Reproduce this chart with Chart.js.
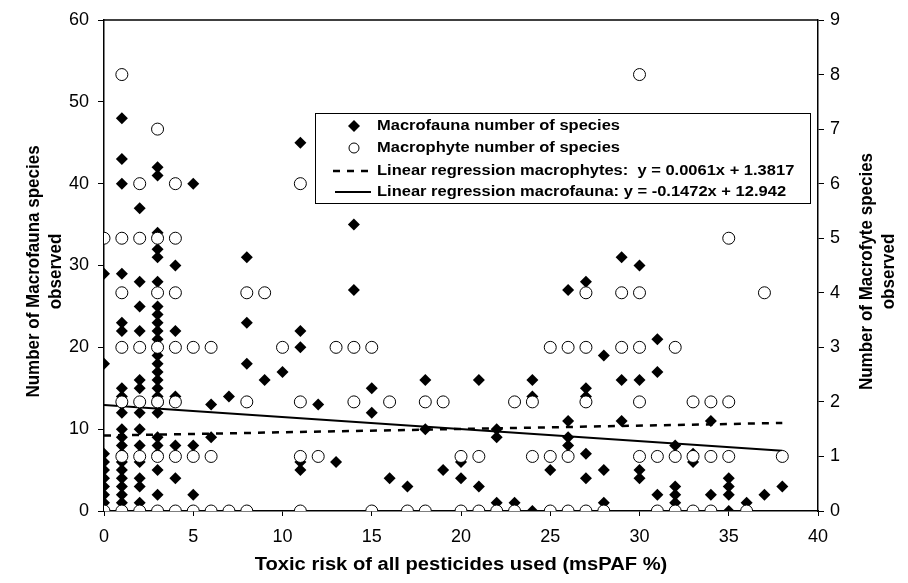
<!DOCTYPE html>
<html>
<head>
<meta charset="utf-8">
<script src="https://cdn.jsdelivr.net/npm/chart.js@4.4.0/dist/chart.umd.min.js"></script>
<style>
  html, body { margin: 0; padding: 0; background: #fff; }
  #wrap { width: 908px; height: 583px; }
</style>
</head>
<body>
<div id="wrap"><canvas id="riskChart"></canvas></div>
<script>
// toxic risk levels (msPAF %), one list of observed counts per level
const riskLevels = [0, 1, 2, 3, 4, 5, 6, 7, 8, 9, 10, 11, 12, 13, 14, 15, 16, 17, 18, 19,
                    20, 21, 22, 23, 24, 25, 26, 27, 28, 29, 30, 31, 32, 33, 34, 35, 36, 37, 38];

// macrofauna species per sample (left axis)
const faunaCounts = [
  [29, 18, 7, 6, 5, 4, 3, 2, 1],
  [48, 43, 40, 29, 23, 22, 15, 14, 13, 12, 10, 9, 8, 7, 6, 5, 4, 3, 2, 1],
  [37, 28, 25, 22, 16, 15, 12, 10, 8, 6, 4, 3, 1],
  [42, 41, 34, 32, 31, 28, 25, 24, 23, 22, 21, 20, 19, 18, 17, 16, 15, 14, 13, 12, 9, 8, 7, 5, 2],
  [30, 22, 14, 8, 4],
  [40, 8, 2],
  [13, 9],
  [14],
  [31, 23, 18],
  [16],
  [17],
  [45, 22, 20, 6, 5],
  [13],
  [6],
  [35, 27],
  [15, 12],
  [4],
  [3],
  [16, 10],
  [5],
  [6, 4],
  [16, 3],
  [10, 9, 1],
  [1],
  [16, 14, 0],
  [5],
  [27, 11, 9, 8],
  [28, 15, 14, 7, 4],
  [19, 5, 1],
  [31, 16, 11],
  [30, 16, 5, 4],
  [21, 17, 2],
  [8, 3, 2, 1],
  [7, 6],
  [11, 2],
  [4, 3, 2, 0],
  [1],
  [2],
  [3]
];

// macrophyte species per sample (right axis)
const phyteCounts = [
  [5, 0],
  [8, 5, 4, 3, 2, 1, 0],
  [6, 5, 3, 2, 1, 0],
  [7, 5, 4, 3, 2, 1, 0],
  [6, 5, 4, 3, 2, 1, 0],
  [3, 1, 0],
  [3, 1, 0],
  [0],
  [4, 2, 0],
  [4],
  [3],
  [6, 2, 1, 0],
  [1],
  [3],
  [3, 2],
  [3, 0],
  [2],
  [0],
  [2, 0],
  [2],
  [1, 0],
  [1, 0],
  [0],
  [2, 0],
  [2, 1],
  [3, 1, 0],
  [3, 1, 0],
  [4, 3, 2, 0],
  [0],
  [4, 3],
  [8, 4, 3, 2, 1],
  [1, 0],
  [3, 1, 0],
  [2, 1, 0],
  [2, 1, 0],
  [5, 2, 1],
  [0],
  [4],
  [1]
];

// regression: [slope, intercept], drawn over this risk range
const phyteFit = [0.0061, 1.3817];
const faunaFit = [-0.1472, 12.942];
const fitRange = [0, 38];

const xTicks = [0, 5, 10, 15, 20, 25, 30, 35, 40];
const leftTicks = [0, 10, 20, 30, 40, 50, 60];
const rightTicks = [0, 1, 2, 3, 4, 5, 6, 7, 8, 9];

const legendLabels = [
  'Macrofauna number of species',
  'Macrophyte number of species',
  'Linear regression macrophytes:  y = 0.0061x + 1.3817',
  'Linear regression macrofauna: y = -0.1472x + 12.942'
];

const FONT = '"Liberation Sans", Arial, Helvetica, sans-serif';

function toPoints(counts) {
  const pts = [];
  counts.forEach((list, i) => list.forEach(v => pts.push({ x: riskLevels[i], y: v })));
  return pts;
}

function fitLine(fit) {
  return fitRange.map(x => ({ x: x, y: fit[0] * x + fit[1] }));
}

// text a bit wider than the font, like the original export
function wideText(ctx, text, x, y, sx) {
  ctx.save();
  ctx.translate(x, y);
  ctx.scale(sx, 1);
  ctx.fillText(text, 0, 0);
  ctx.restore();
}

// titles, top frame and the boxed legend
const decor = {
  id: 'decor',
  afterDraw(chart) {
    const { ctx, chartArea: a } = chart;
    ctx.save();
    ctx.strokeStyle = '#000';
    ctx.lineWidth = 1.5;
    ctx.beginPath();
    ctx.moveTo(a.left, a.top);
    ctx.lineTo(a.right, a.top);
    ctx.stroke();

    ctx.fillStyle = '#000';
    ctx.font = 'bold 18px ' + FONT;
    ctx.textAlign = 'center';
    ctx.textBaseline = 'middle';
    const midY = (a.top + a.bottom) / 2 + 6;

    wideText(ctx, 'Toxic risk of all pesticides used (msPAF %)', (a.left + a.right) / 2, 565, 1.12);

    ctx.font = 'bold 17px ' + FONT;
    [[34, 'Number of Macrofauna species'], [56, 'observed'],
     [867, 'Number of Macrofyte species'], [889, 'observed']].forEach(([x, t]) => {
      ctx.save();
      ctx.translate(x, midY);
      ctx.rotate(-Math.PI / 2);
      ctx.scale(1, 1.12);
      ctx.fillText(t, 0, 0);
      ctx.restore();
    });

    // legend box
    const box = { l: 315, t: 113, r: 810, b: 203 };
    ctx.fillStyle = '#fff';
    ctx.fillRect(box.l, box.t, box.r - box.l, box.b - box.t);
    ctx.strokeStyle = '#000';
    ctx.lineWidth = 1;
    ctx.strokeRect(box.l + 0.5, box.t + 0.5, box.r - box.l, box.b - box.t);

    const rowY = [126, 148, 171, 192];
    const mx = 354;
    const ds = chart.data.datasets;

    ctx.fillStyle = '#000';
    ctx.beginPath();
    ctx.moveTo(mx, rowY[0] - 6); ctx.lineTo(mx + 6, rowY[0]);
    ctx.lineTo(mx, rowY[0] + 6); ctx.lineTo(mx - 6, rowY[0]);
    ctx.closePath(); ctx.fill();

    ctx.beginPath();
    ctx.arc(mx, rowY[1], 5, 0, Math.PI * 2);
    ctx.fillStyle = '#fff'; ctx.fill();
    ctx.strokeStyle = '#000'; ctx.lineWidth = 1; ctx.stroke();

    ctx.lineWidth = ds[2].borderWidth;
    ctx.setLineDash(ds[2].borderDash);
    ctx.beginPath(); ctx.moveTo(333, rowY[2]); ctx.lineTo(371, rowY[2]); ctx.stroke();
    ctx.setLineDash([]);
    ctx.lineWidth = ds[3].borderWidth;
    ctx.beginPath(); ctx.moveTo(335, rowY[3]); ctx.lineTo(371, rowY[3]); ctx.stroke();

    ctx.fillStyle = '#000';
    ctx.font = 'bold 15px ' + FONT;
    ctx.textAlign = 'left';
    legendLabels.forEach((t, i) => wideText(ctx, t, 377, rowY[i], 1.1));
    ctx.restore();
  }
};

const tickFont = { family: FONT, size: 18 };

new Chart(document.getElementById('riskChart'), {
  type: 'scatter',
  data: {
    datasets: [
      {
        label: legendLabels[1],
        data: toPoints(phyteCounts),
        yAxisID: 'y2',
        pointStyle: 'circle',
        pointRadius: 6,
        pointBackgroundColor: '#fff',
        pointBorderColor: '#000',
        pointBorderWidth: 1,
        order: 0
      },
      {
        label: legendLabels[0],
        data: toPoints(faunaCounts),
        yAxisID: 'y',
        pointStyle: 'rectRot',
        pointRadius: 6,
        pointBackgroundColor: '#000',
        pointBorderColor: '#000',
        pointBorderWidth: 0,
        order: 1
      },
      {
        label: legendLabels[2],
        type: 'line',
        data: fitLine(phyteFit),
        yAxisID: 'y2',
        borderColor: '#000',
        borderWidth: 2.5,
        borderDash: [7, 7],
        pointRadius: 0,
        fill: false,
        order: 2
      },
      {
        label: legendLabels[3],
        type: 'line',
        data: fitLine(faunaFit),
        yAxisID: 'y',
        borderColor: '#000',
        borderWidth: 2,
        pointRadius: 0,
        fill: false,
        order: 3
      }
    ]
  },
  options: {
    responsive: true,
    maintainAspectRatio: false,
    animation: false,
    layout: { padding: { top: 20, left: 0, right: 0, bottom: 0 } },
    scales: {
      x: {
        type: 'linear',
        min: 0,
        max: 40,
        afterBuildTicks: s => { s.ticks = xTicks.map(v => ({ value: v })); },
        afterFit: s => { s.height = 72; },
        grid: { drawOnChartArea: false, tickLength: 5, color: '#000' },
        border: { color: '#000', width: 1.5 },
        ticks: { color: '#000', font: tickFont, padding: 10, maxRotation: 0 }
      },
      y: {
        position: 'left',
        min: 0,
        max: 60,
        afterBuildTicks: s => { s.ticks = leftTicks.map(v => ({ value: v })); },
        afterFit: s => { s.width = 104; },
        grid: { drawOnChartArea: false, tickLength: 6, color: '#000' },
        border: { color: '#000', width: 1.5 },
        ticks: { color: '#000', font: tickFont, padding: 9 }
      },
      y2: {
        position: 'right',
        min: 0,
        max: 9,
        afterBuildTicks: s => { s.ticks = rightTicks.map(v => ({ value: v })); },
        afterFit: s => { s.width = 90; },
        grid: { drawOnChartArea: false, tickLength: 6, color: '#000' },
        border: { color: '#000', width: 1.5 },
        ticks: { color: '#000', font: tickFont, padding: 6 }
      }
    },
    plugins: {
      legend: { display: false },
      tooltip: { enabled: false }
    }
  },
  plugins: [decor]
});
</script>
</body>
</html>
